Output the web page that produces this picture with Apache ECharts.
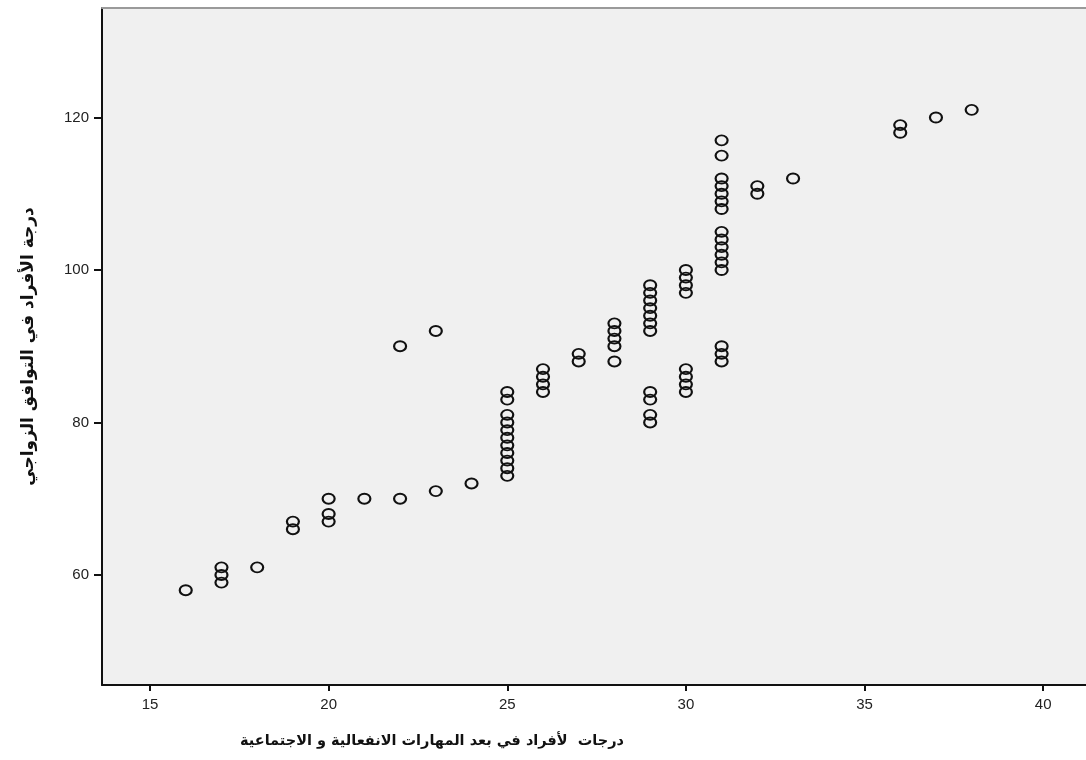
<!DOCTYPE html>
<html>
<head>
<meta charset="utf-8">
<script src="https://cdn.jsdelivr.net/npm/echarts@6/dist/echarts.min.js"></script>
<style>
html,body{margin:0;padding:0;background:#fff;}
#c{width:1086px;height:760px;}
</style>
</head>
<body>
<div id="c"></div>
<script>
// X values (emotional & social skills score) and Y values (marital adjustment score)
const xScores = [
  16,
  17, 17, 17,
  18,
  19, 19,
  20, 20, 20,
  21,
  22, 22,
  23, 23,
  24,
  25, 25, 25, 25, 25, 25, 25, 25, 25, 25, 25,
  26, 26, 26, 26,
  27, 27,
  28, 28, 28, 28, 28,
  29, 29, 29, 29, 29, 29, 29, 29, 29, 29, 29,
  30, 30, 30, 30, 30, 30, 30, 30,
  31, 31, 31, 31, 31, 31, 31, 31, 31, 31, 31, 31, 31, 31, 31, 31,
  32, 32,
  33,
  36, 36,
  37,
  38
];
const yScores = [
  58,
  61, 60, 59,
  61,
  67, 66,
  70, 68, 67,
  70,
  70, 90,
  71, 92,
  72,
  84, 83, 81, 80, 79, 78, 77, 76, 75, 74, 73,
  87, 86, 85, 84,
  89, 88,
  93, 92, 91, 90, 88,
  98, 97, 96, 95, 94, 93, 92, 84, 83, 81, 80,
  100, 99, 98, 97, 87, 86, 85, 84,
  117, 115, 112, 111, 110, 109, 108, 105, 104, 103, 102, 101, 100, 90, 89, 88,
  111, 110,
  112,
  119, 118,
  120,
  121
];
const xTicks = [15, 20, 25, 30, 35, 40];
const yTicks = [60, 80, 100, 120];
const xTitle = 'درجات  لأفراد في بعد المهارات الانفعالية و الاجتماعية';
const yTitle = 'درجة الأفراد في التوافق الزواجي';

const points = xScores.map((x, i) => [x, yScores[i]]);

const chart = echarts.init(document.getElementById('c'), null, {renderer: 'canvas'});
const labelFont = {fontFamily: 'Liberation Sans, Arial, sans-serif', fontSize: 15, color: '#222'};
chart.setOption({
  animation: false,
  backgroundColor: '#ffffff',
  grid: {left: 102, right: 0, top: 8, bottom: 75, show: true, backgroundColor: '#f0f0f0', borderWidth: 0},
  xAxis: [{
    type: 'value', min: 13.656, max: 41.2, position: 'bottom',
    axisLine: {show: true, onZero: false, lineStyle: {color: '#111', width: 2}},
    axisTick: {show: true, customValues: xTicks, length: 6, lineStyle: {color: '#111', width: 2}},
    axisLabel: Object.assign({customValues: xTicks, margin: 12}, labelFont),
    splitLine: {show: false}
  }, {
    type: 'value', min: 13.656, max: 41.2, position: 'top',
    axisLine: {show: true, onZero: false, lineStyle: {color: '#9a9a9a', width: 2}},
    axisTick: {show: false}, axisLabel: {show: false}, splitLine: {show: false}
  }],
  yAxis: {
    type: 'value', min: 45.57, max: 134.36,
    axisLine: {show: true, onZero: false, lineStyle: {color: '#111', width: 2}},
    axisTick: {show: true, customValues: yTicks, length: 8, lineStyle: {color: '#111', width: 2}},
    axisLabel: Object.assign({customValues: yTicks, margin: 13}, labelFont),
    splitLine: {show: false},
    name: yTitle, nameLocation: 'middle', nameGap: 65,
    nameTextStyle: {fontFamily: 'DejaVu Sans', fontWeight: 'bold', fontSize: 17, color: '#111'}
  },
  graphic: [{
    type: 'text', x: 432, y: 741,
    style: {text: xTitle, fontFamily: 'DejaVu Sans', fontWeight: 'bold', fontSize: 14.5, fill: '#111',
      align: 'center', verticalAlign: 'middle'}
  }],
  series: [{
    type: 'scatter', xAxisIndex: 0, data: points,
    symbol: 'circle', symbolSize: [12, 10],
    itemStyle: {color: 'rgba(0,0,0,0)', borderColor: '#111', borderWidth: 2, opacity: 1}
  }]
});
</script>
</body>
</html>
